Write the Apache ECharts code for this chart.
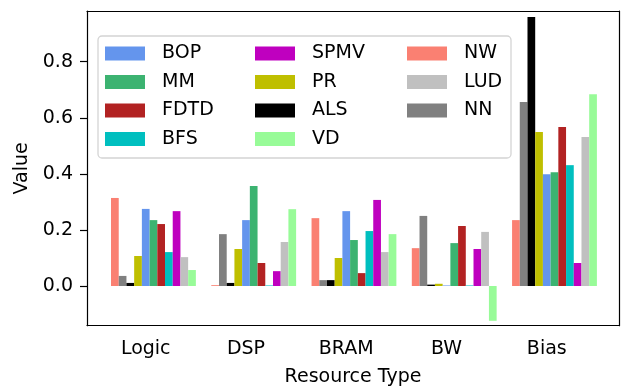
<!DOCTYPE html>
<html><head><meta charset="utf-8">
<script src="https://cdn.jsdelivr.net/npm/echarts@6/dist/echarts.min.js"></script>
<style>html,body{margin:0;padding:0;background:#fff}#c{width:622px;height:386px}</style>
</head><body><div id="c"></div>
<script>
const categories = ['Logic', 'DSP', 'BRAM', 'BW', 'Bias'];
const yTicks = [0, 0.2, 0.4, 0.6, 0.8];
// series in bar order within each group
const NW   = [0.314, 0.003, 0.242, 0.135, 0.235];
const NN   = [0.036, 0.185, 0.021, 0.250, 0.656];
const ALS  = [0.011, 0.011, 0.021, 0.005, 0.959];
const PR   = [0.107, 0.132, 0.100, 0.008, 0.549];
const BOP  = [0.275, 0.235, 0.267, 0.002, 0.399];
const MM   = [0.235, 0.357, 0.164, 0.153, 0.406];
const FDTD = [0.221, 0.082, 0.046, 0.214, 0.567];
const BFS  = [0.121, 0.002, 0.196, 0.002, 0.431];
const SPMV = [0.267, 0.053, 0.307, 0.132, 0.082];
const LUD  = [0.103, 0.157, 0.121, 0.193, 0.531];
const VD   = [0.057, 0.274, 0.185, -0.124, 0.684];

const barOrder = [
  ['NW', NW, '#FA8072'], ['NN', NN, '#808080'], ['ALS', ALS, '#000000'],
  ['PR', PR, '#BFBF00'], ['BOP', BOP, '#6495ED'], ['MM', MM, '#3CB371'],
  ['FDTD', FDTD, '#B22222'], ['BFS', BFS, '#00BFBF'], ['SPMV', SPMV, '#BF00BF'],
  ['LUD', LUD, '#C0C0C0'], ['VD', VD, '#98FB98']
];
const legendCols = [['BOP','MM','FDTD','BFS'], ['SPMV','PR','ALS','VD'], ['NW','LUD','NN']];

const FONT = 'DejaVu Sans';
const FS = 19;
const yMin = -0.1415, yMax = 0.9807;

const series = [];
// two empty slots so the group layout matches the reference offsets
['_s1', '_s2'].forEach(n => series.push({name: n, type: 'bar', xAxisIndex: 0, yAxisIndex: 0, data: categories.map(() => null)}));
barOrder.forEach(([n, d, c]) => series.push({
  name: n, type: 'bar', xAxisIndex: 0, yAxisIndex: 0, data: d,
  itemStyle: {color: c}, barGap: '0%', barCategoryGap: '0%'
}));

const legendLeft = [105, 255, 407];
const legends = legendCols.map((items, i) => ({
  data: items, orient: 'vertical', left: legendLeft[i], top: 44, padding: 0,
  itemWidth: 40, itemHeight: 14, itemGap: 9.5, icon: 'rect', selectedMode: false, z: 5,
  textStyle: {fontFamily: FONT, fontSize: FS, color: '#000', padding: [0, 0, 0, 12]}
}));

const frameLine = {show: true, onZero: false, lineStyle: {color: '#000', width: 1.2}};

const option = {
  animation: false,
  backgroundColor: '#fff',
  textStyle: {fontFamily: FONT},
  grid: [
    {left: 95.6, right: 25.1, top: 11, bottom: 60.3, containLabel: false, outerBoundsMode: 'none'},
    {left: 87, right: 3, top: 11, bottom: 60.3, containLabel: false, outerBoundsMode: 'none'}
  ],
  legend: legends,
  graphic: [{type: 'rect', shape: {x: 98, y: 36, width: 413, height: 122, r: 4},
    style: {fill: '#fff', stroke: '#d4d4d4', lineWidth: 1.3}, z: 3}],
  xAxis: [
    {type: 'category', gridIndex: 0, data: categories,
     axisLine: {show: false},
     axisTick: {alignWithLabel: true, length: 7, lineStyle: {color: '#000', width: 1.2}},
     axisLabel: {fontFamily: FONT, fontSize: FS, color: '#000', margin: 14}},
    {type: 'value', gridIndex: 1, min: 0, max: 1, position: 'bottom',
     axisLine: frameLine,
     axisTick: {show: false}, axisLabel: {show: false}, splitLine: {show: false},
     name: 'Resource Type', nameLocation: 'middle', nameGap: 42,
     nameTextStyle: {fontFamily: FONT, fontSize: FS, color: '#000'}},
    {type: 'value', gridIndex: 1, min: 0, max: 1, position: 'top',
     axisLine: frameLine,
     axisTick: {show: false}, axisLabel: {show: false}, splitLine: {show: false}}
  ],
  yAxis: [
    {type: 'value', gridIndex: 0, min: yMin, max: yMax, show: false, splitLine: {show: false}},
    {type: 'value', gridIndex: 1, min: yMin, max: yMax, position: 'left',
     axisLine: frameLine,
     axisTick: {show: true, length: 7, customValues: yTicks, lineStyle: {color: '#000', width: 1.2}},
     axisLabel: {fontFamily: FONT, fontSize: FS, color: '#000', margin: 14, customValues: yTicks,
       formatter: v => v.toFixed(1)},
     splitLine: {show: false},
     name: 'Value', nameLocation: 'middle', nameGap: 52,
     nameTextStyle: {fontFamily: FONT, fontSize: FS, color: '#000'}},
    {type: 'value', gridIndex: 1, min: yMin, max: yMax, position: 'right',
     axisLine: frameLine,
     axisTick: {show: false}, axisLabel: {show: false}, splitLine: {show: false}}
  ],
  series: series
};
const chart = echarts.init(document.getElementById('c'), null, {renderer: 'canvas'});
chart.setOption(option);
</script></body></html>
